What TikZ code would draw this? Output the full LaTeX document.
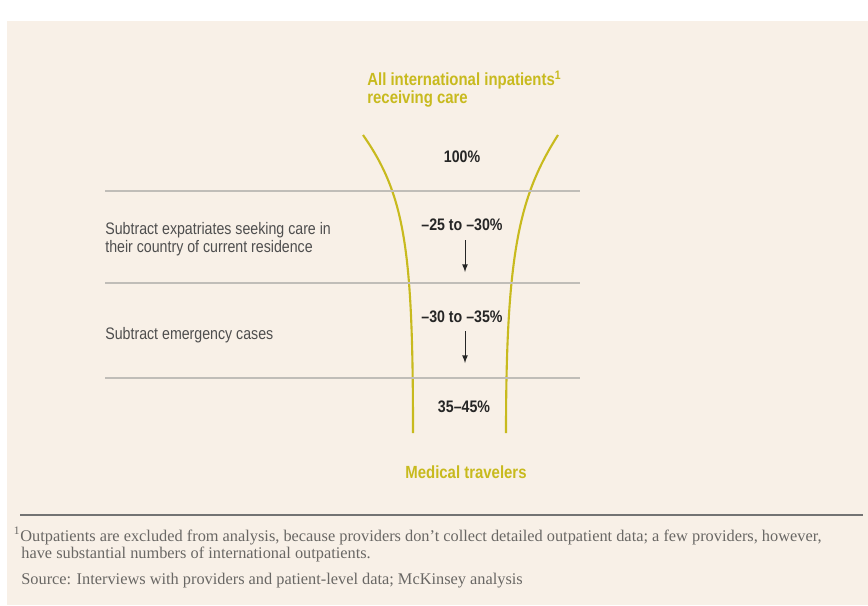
\documentclass[tikz,border=0pt]{standalone}
\usepackage{fontspec}
\setmainfont{Liberation Serif}
\newfontfamily\condsf[FakeStretch=0.85]{Liberation Sans}
\usetikzlibrary{arrows}
\definecolor{paper}{RGB}{248,240,231}
\definecolor{mckgold}{RGB}{200,186,30}
\definecolor{ruleline}{RGB}{192,189,184}
\definecolor{labelgray}{RGB}{78,78,78}
\definecolor{notegray}{RGB}{105,103,100}

\begin{document}
\begin{tikzpicture}[x=0.02cm,y=-0.02cm]
\tikzstyle{stage} = [font=\condsf\fontsize{9.5}{10}\selectfont, text=labelgray, anchor=west, align=left, inner sep=0pt]
\tikzstyle{share} = [font=\condsf\bfseries\fontsize{9.5}{11}\selectfont, text=black!85, inner sep=1pt]
\tikzstyle{heading} = [font=\condsf\bfseries\fontsize{10}{10.4}\selectfont, text=mckgold, inner sep=0pt]
\tikzstyle{funnel} = [draw=mckgold, line width=1.2pt]
\tikzstyle{band} = [draw=ruleline, line width=0.6pt]
\tikzstyle{drop} = [draw=black!85, -latex, line width=0.5pt]
\tikzstyle{note} = [font=\fontsize{9.3}{9.6}\selectfont, text=notegray, anchor=base west, inner sep=0pt]

\useasboundingbox (0,0) rectangle (868,605);
\fill[white] (0,0) rectangle (868,605);
\fill[paper] (7,21) rectangle (868,605);

% funnel walls
\draw[funnel] (363,135) .. controls (405,195) and (413,250) .. (413,433);
\draw[funnel] (558,135) .. controls (520,195) and (506,250) .. (506,433);

% stage borders
\draw[band] (105,191) -- (580,191);
\draw[band] (105,283) -- (580,283);
\draw[band] (105,378) -- (580,378);

\node[heading, anchor=west, align=left] (top) at (367,89) {All international inpatients\textsuperscript{1}\\receiving care};
\node[heading] (bottom) at (466,472) {Medical travelers};

\node[share] (all) at (462,157) {100\%};
\node[share] (cut1) at (462,225) {–25 to –30\%};
\node[share] (cut2) at (462,317) {–30 to –35\%};
\node[share] (rest) at (464,407) {35–45\%};

\coordinate (cut1end) at (465,272);
\coordinate (cut2end) at (465,363);
\draw[drop] (cut1.south -| cut1end) ++(0,7) -- (cut1end);
\draw[drop] (cut2.south -| cut2end) ++(0,6) -- (cut2end);

\node[stage] (expat) at (105,239) {Subtract expatriates seeking care in\\their country of current residence};
\node[stage] (emerg) at (105,335) {Subtract emergency cases};

% footnote
\draw[draw=black!55, line width=1pt] (20,515) -- (863,515);
\node[note] (fn) at (20,541) {\llap{\textsuperscript{1}}Outpatients are excluded from analysis, because providers don’t collect detailed outpatient data; a few providers, however,};
\node[note] (fnb) at (21,558) {have substantial numbers of international outpatients.};
\node[note] (src) at (21,584) {Source: Interviews with providers and patient-level data; McKinsey analysis};
\end{tikzpicture}
\end{document}
